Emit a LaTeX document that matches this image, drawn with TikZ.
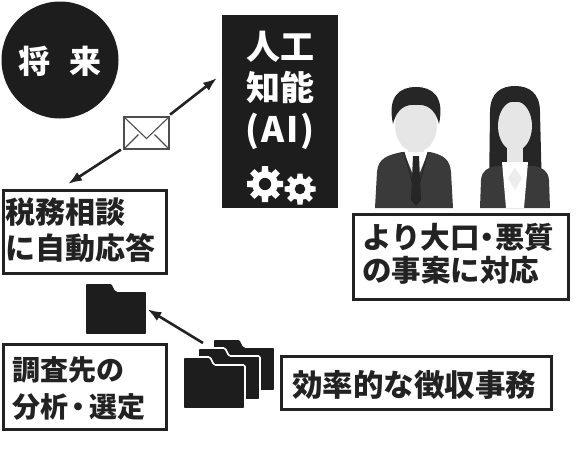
\documentclass[tikz,border=0pt]{standalone}
\usepackage{fontspec}
\setmainfont{Noto Sans CJK JP}
\usetikzlibrary{arrows.meta,calc}

\definecolor{ink}{HTML}{222222}
\definecolor{panel}{HTML}{1D1D1D}
\definecolor{suit}{HTML}{3A3A3A}
\definecolor{skin}{HTML}{E6E6E6}
\definecolor{hair}{HTML}{262626}

\tikzset{
  frame/.style={draw=ink, line width=3pt, fill=white, anchor=north west, inner sep=0pt},
  txt/.style={anchor=base west, inner sep=0pt, text=ink, font=\bfseries\fontsize{#1}{#1}\selectfont},
  wtxt/.style={anchor=base, inner sep=0pt, text=white, font=\bfseries\fontsize{#1}{#1}\selectfont},
  conn/.style={draw=ink, line width=2.6pt, -{Latex[length=14pt,width=10pt]}},
  folder/.pic={
    \fill[panel, draw=white, line width=1.6pt, rounded corners=1.5pt]
      (0,0) -- (0,52) -- (62,52) -- (62,8) -- (31,8) -- (27,0) -- cycle;
  },
  gear/.pic={
    \fill[white] (0,0) circle (#1*0.72);
    \foreach \a in {0,45,...,315}
      \fill[white, rotate=\a] (-#1*0.22,0) -- (-#1*0.17,-#1) -- (#1*0.17,-#1) -- (#1*0.22,0) -- cycle;
    \fill[panel] (0,0) circle (#1*0.34);
  }
}

\begin{document}
\begin{tikzpicture}[x=1pt,y=-1pt]
\useasboundingbox (0,0) rectangle (579,459);

% "future" badge
\node[circle, fill=panel, minimum size=117pt, inner sep=0pt] (future) at (60,60) {};
\node[wtxt=32] (futuretext) at (60,73) {将\hspace{19pt}来};

% AI panel
\node[fill=panel, minimum width=116pt, minimum height=193pt, anchor=north west, inner sep=0pt] (ai) at (222,15) {};
\node[wtxt=34] (ai1) at (280,59) {人工};
\node[wtxt=34] (ai2) at (280,100) {知能};
\node[wtxt=35] (ai3) at (280,142) {(\kern1.5pt A\kern2pt I\kern1.5pt)};
\pic at (265,184) {gear=18};
\pic at (300,189) {gear=15.5};

% envelope between the two arrows
\node[draw=ink!80, fill=white, line width=1.1pt, minimum width=45pt, minimum height=32pt, inner sep=0pt] (env) at (146.5,133) {};
\draw[ink!80, line width=1.1pt] (env.north west) -- ($(env.south)+(0,-11)$) -- (env.north east);
\draw[ink!80, line width=1.1pt] (env.south west) -- ($(env.south west)+(15,-15)$);
\draw[ink!80, line width=1.1pt] (env.south east) -- ($(env.south east)+(-15,-15)$);

% automatic reply box
\node[frame, minimum width=163pt, minimum height=83pt] (tax) at (1.5,188.5) {};
\node[txt=30] (tax1) at (5,223.4) {税務相談};
\node[txt=30] (tax2) at (5,259.4) {に自動応答};

\coordinate (aitip) at (217,78);
\coordinate (taxtip) at (68,184);
\draw[conn, shorten <=3pt] (env) -- (aitip);
\draw[conn, shorten <=3pt] (env) -- (taxtip);

% staff
\begin{scope}
  % man
  \fill[suit] (375,208) -- (377,172) .. controls (378,158) and (388,155) .. (402,152)
    -- (430,152) .. controls (444,155) and (450,160) .. (451,172) -- (453,208) -- cycle;
  \fill[skin] (408,138) rectangle (424,156);
  \fill[white] (404,152) -- (428,152) -- (416,182) -- cycle;
  \fill[hair] (413,156) -- (419,156) -- (421,200) -- (416,206) -- (411,200) -- cycle;
  \draw[hair, line width=1pt] (404,152) -- (413,185) (428,152) -- (419,185);
  \fill[skin] (416,126) ellipse (21pt and 26pt);
  \fill[hair] (393,124) .. controls (387,96) and (400,87) .. (416,87)
    .. controls (432,87) and (445,96) .. (439,124)
    .. controls (435,108) and (426,104) .. (416,105)
    .. controls (406,104) and (397,108) .. (393,124) -- cycle;
  % woman
  \fill[hair] (489,192) -- (490,112) .. controls (490,92) and (502,86) .. (515,86)
    .. controls (528,86) and (540,92) .. (540,112) -- (542,192) -- cycle;
  \fill[suit] (480,208) -- (481,180) .. controls (482,170) and (488,168) .. (495,166)
    -- (535,166) .. controls (542,168) and (548,170) .. (549,180) -- (550,208) -- cycle;
  \fill[skin] (507,140) rectangle (523,165);
  \fill[white] (502,162) -- (528,162) -- (524,208) -- (506,208) -- cycle;
  \fill[skin!70!white] (515,168) -- (508,178) -- (515,190) -- (522,178) -- cycle;
  \fill[skin] (515,126) ellipse (17pt and 25pt);
  \fill[hair] (495,122) .. controls (492,95) and (503,88) .. (515,88)
    .. controls (527,88) and (538,95) .. (535,122)
    .. controls (531,106) and (523,101) .. (515,102)
    .. controls (507,101) and (499,106) .. (495,122) -- cycle;
\end{scope}

% large-case box
\node[frame, minimum width=215pt, minimum height=85pt] (large) at (352,213) {};
\node[txt=29.5] (large1) at (362,248) {より大口\kern-7pt・\kern-7pt悪質};
\node[txt=29.5] (large2) at (362,281) {の事案に対応};

% folders
\pic at (85,283) {folder};
\node[minimum width=62pt, minimum height=52pt, anchor=north west, inner sep=0pt] (single) at (85,283) {};
\pic at (213,339) {folder};
\pic at (198,348) {folder};
\pic at (183,357) {folder};
\node[minimum width=92pt, minimum height=70pt, anchor=north west, inner sep=0pt] (stack) at (183,339) {};
\coordinate (stacktail) at (203,343);
\draw[conn] (stacktail) -- (single.east);

% analysis box
\node[frame, minimum width=163pt, minimum height=85pt] (analysis) at (1.5,342.5) {};
\node[txt=28] (an1) at (12,380.6) {調査先の};
\node[txt=28] (an2) at (12,417.6) {分析\kern-3.5pt・\kern-3.5pt選定};

% collection box
\node[frame, minimum width=270pt, minimum height=53pt] (collect) at (280,355) {};
\node[txt=30.5] (col1) at (292,396.6) {効率的な徴収事務};
\end{tikzpicture}
\end{document}
